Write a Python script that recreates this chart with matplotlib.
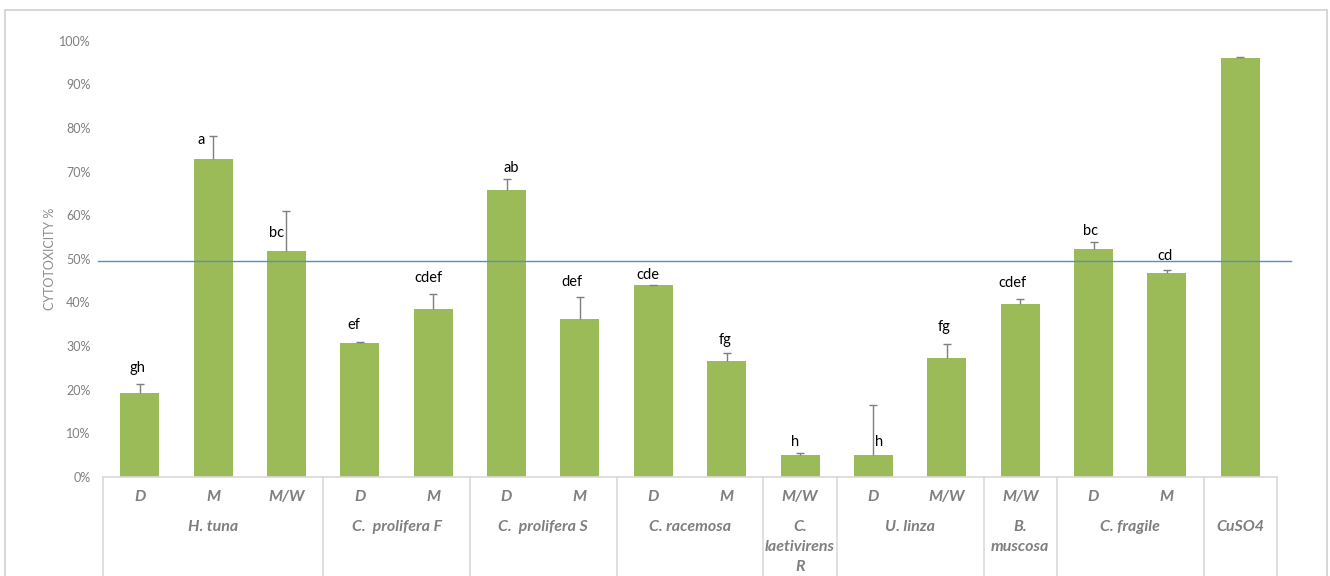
import matplotlib
matplotlib.use('Agg')
import matplotlib.pyplot as plt
from matplotlib.patches import Rectangle
from matplotlib.lines import Line2D

# ---- data ----
sub_labels = ['D', 'M', 'M/W', 'D', 'M', 'D', 'M', 'D', 'M', 'M/W', 'D', 'M/W', 'M/W', 'D', 'M', '']
group_names = ['H. tuna', 'C.  prolifera F', 'C.  prolifera S', 'C. racemosa',
               'C.\nlaetivirens\nR', 'U. linza', 'B.\nmuscosa', 'C. fragile', 'CuSO4']
group_counts = [3, 2, 2, 2, 1, 2, 1, 2, 1]
values = [19.2, 72.8, 51.9, 30.6, 38.6, 65.8, 36.1, 43.9, 26.6, 5.0, 5.1, 27.2, 39.7, 52.2, 46.8, 96.0]
errors = [2.2, 5.3, 9.0, 0.3, 3.3, 2.6, 5.2, 0.2, 1.9, 0.5, 11.5, 3.2, 1.2, 1.6, 0.7, 0.3]
letters = ['gh', 'a', 'bc', 'ef', 'cdef', 'ab', 'def', 'cde', 'fg', 'h', 'h', 'fg', 'cdef', 'bc', 'cd', '']
threshold = 49.4
yticks = [0, 10, 20, 30, 40, 50, 60, 70, 80, 90, 100]

# ---- layout (label offsets in pixels relative to bar top) ----
label_dx = [-2, -12, -10, -6, -5, 5, -8, -5, -2, -5, 6, -3, -8, -3, -2, 0]
label_dy = [25, 19, 18, 18, 31, 22, 37, 10, 21, 13, 13, 31, 21, 18, 17, 0]

BAR = '#9BBB59'
GRAY = '#7F7F7F'
LINE = '#D9D9D9'
FONT = 'Lato'

fig = plt.figure(figsize=(13.3, 5.76), dpi=100)
W, H = 1330, 576
left, right, bottom, top = 103 / W, 1277 / W, 1 - 477 / H, 1 - 40.6 / H
ax = fig.add_axes([left, bottom, right - left, top - bottom])

# outer frame
fig.add_artist(Rectangle((5 / W, -0.05), 1322 / W, 1.05 - 10 / H, transform=fig.transFigure,
                         fill=False, edgecolor='#D0D0D0', linewidth=1.2))

n = len(values)
x = list(range(n))
ax.bar(x, [v / 100 for v in values], width=0.53, color=BAR, zorder=2)
eb = ax.errorbar(x, [v / 100 for v in values],
                 yerr=[[0] * n, [e / 100 for e in errors]],
                 fmt='none', ecolor=GRAY, elinewidth=1.0, capsize=2.7, capthick=1.0, zorder=3)
eb[1][0].set_visible(False)  # hide lower caps (plus direction only)

for i in range(n):
    if letters[i]:
        ax.annotate(letters[i], (x[i], values[i] / 100),
                    xytext=(label_dx[i] * 0.72, label_dy[i] * 0.72), textcoords='offset points',
                    ha='center', va='center', fontsize=10.5, color='black', family=FONT)

ax.set_xlim(-0.5, n - 0.5)
ax.set_ylim(0, 1)
ax.set_yticks([t / 100 for t in yticks])
ax.set_yticklabels([f'{t}%' for t in yticks], color=GRAY, fontsize=9, family=FONT)
ax.tick_params(axis='y', length=0, pad=9)
ax.set_xticks([])
for s in ['left', 'right', 'top']:
    ax.spines[s].set_visible(False)
ax.spines['bottom'].set_color(LINE)
ax.spines['bottom'].set_linewidth(1.2)

ax.set_ylabel('CYTOTOXICITY %', color='#8C8C8C', fontsize=9, family=FONT, labelpad=2)

# threshold line (extends slightly beyond plot area)
ax.add_line(Line2D([-5 / 1174, 1188 / 1174], [threshold / 100] * 2,
                   transform=ax.get_yaxis_transform(), color='#5B8EC0', linewidth=1.0,
                   clip_on=False, zorder=4))

# sub category labels
xform = ax.get_xaxis_transform()
for i, s in enumerate(sub_labels):
    ax.text(x[i], -20 / 436.4, s, transform=xform, ha='center', va='center',
            fontsize=11.5, color=GRAY, fontweight='bold', style='italic', family=FONT)

# group labels and separators
start = 0
bounds = [-0.5]
for name, c in zip(group_names, group_counts):
    center = start + (c - 1) / 2
    ax.text(center, -43 / 436.4, name, transform=xform, ha='center', va='top',
            fontsize=11.5, color=GRAY, fontweight='bold', style='italic', family=FONT,
            linespacing=1.55)
    start += c
    bounds.append(start - 0.5)
for b in bounds:
    ax.add_line(Line2D([b, b], [0, -110 / 436.4], transform=xform, color=LINE,
                       linewidth=1.2, clip_on=False))

fig.savefig('out.png', dpi=100)
